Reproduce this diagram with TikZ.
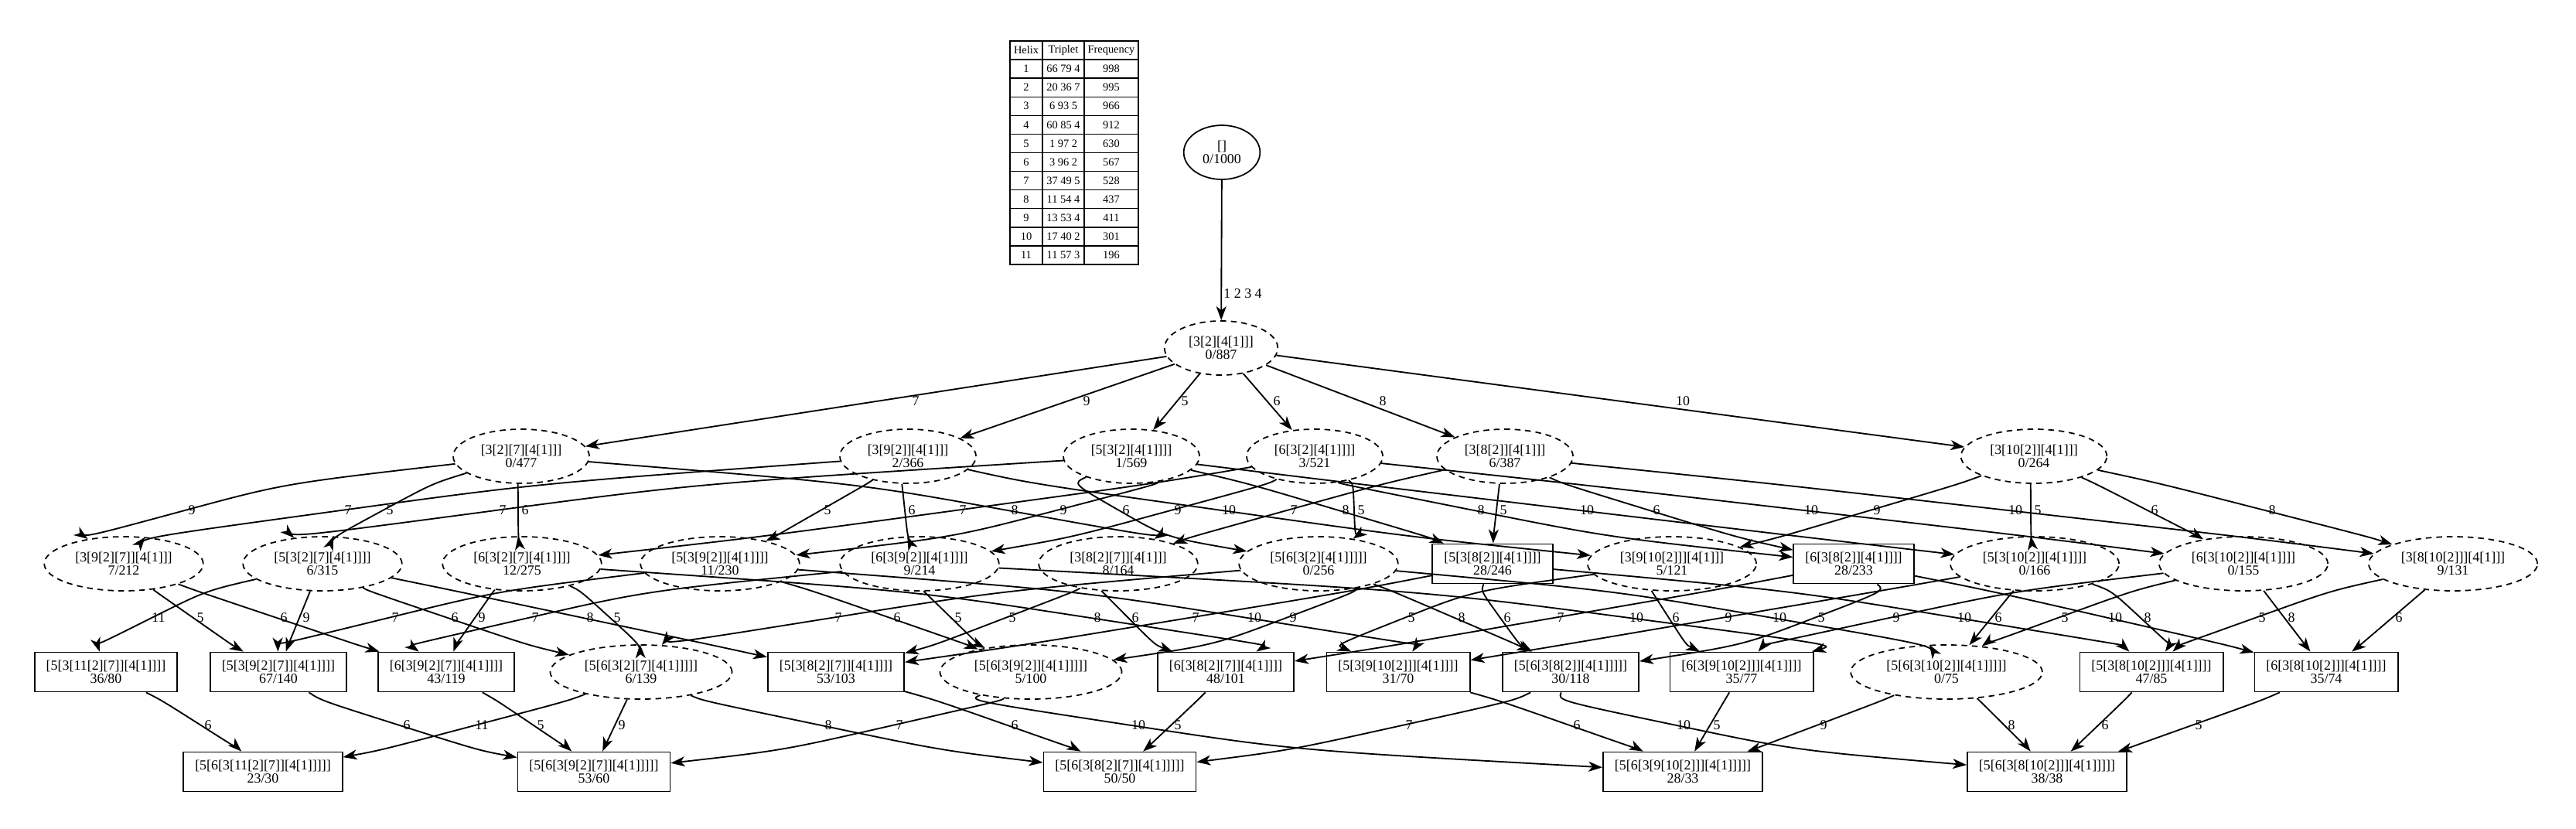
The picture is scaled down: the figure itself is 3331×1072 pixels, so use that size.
\documentclass[tikz,border=0pt]{standalone}
\usepackage{fontspec}
\setmainfont{Liberation Serif}
\usetikzlibrary{shapes.geometric,arrows.meta,calc}

\tikzset{
  stateell/.style={ellipse,draw,dash pattern=on 0.15cm off 0.12cm,line width=1pt,
    inner xsep=0.2cm,inner ysep=0.16cm,minimum height=1.4cm,align=center,
    font=\fontsize{10.2}{9.8}\selectfont},
  statebox/.style={rectangle,draw,line width=1pt,inner xsep=0.3cm,inner ysep=0.1cm,
    minimum height=1.02cm,align=center,font=\fontsize{10.2}{9.8}\selectfont},
  link/.style={-{Stealth[length=0.36cm,width=0.26cm,inset=0.1cm]},line width=1.05pt},
  lbl/.style={inner sep=0pt,font=\fontsize{10.2}{9.8}\selectfont},
  tab/.style={inner sep=0pt,font=\fontsize{8.2}{9}\selectfont}
}

\begin{document}
\begin{tikzpicture}[x=0.02cm,y=-0.02cm]
\useasboundingbox (0,0) rectangle (3331,1072);

% helix table
\draw[line width=0.8pt] (1306,53) rectangle (1472,342);
\foreach \k in {1,...,11}
  \draw[line width=0.8pt] (1306,{53+24.08*\k}) -- (1472,{53+24.08*\k});
\draw[line width=0.8pt] (1348,53) -- (1348,342) (1402,53) -- (1402,342);
\node[tab] (th) at (1327,65) {Helix};
\node[tab] (tt) at (1375,65) {Triplet};
\node[tab] (tf) at (1437,65) {Frequency};
\foreach \t/\f [count=\k] in {66 79 4/998,20 36 7/995,6 93 5/966,60 85 4/912,
    1 97 2/630,3 96 2/567,37 49 5/528,11 54 4/437,13 53 4/411,17 40 2/301,11 57 3/196}
{
  \node[tab] (h\k) at (1327,{65+24.08*\k}) {\k};
  \node[tab] (t\k) at (1375,{65+24.08*\k}) {\t};
  \node[tab] (f\k) at (1437,{65+24.08*\k}) {\f};
}

% nodes
\node[stateell,solid] (R0) at (1580,197) {[]\\0/1000};
\node[stateell] (R1) at (1579,450) {[3[2][4[1]]]\\0/887};

\node[stateell] (A1) at (674,590) {[3[2][7][4[1]]]\\0/477};
\node[stateell] (A2) at (1174,590) {[3[9[2]][4[1]]]\\2/366};
\node[stateell] (A3) at (1463,590) {[5[3[2][4[1]]]]\\1/569};
\node[stateell] (A4) at (1700,590) {[6[3[2][4[1]]]]\\3/521};
\node[stateell] (A5) at (1946,590) {[3[8[2]][4[1]]]\\6/387};
\node[stateell] (A6) at (2630,590) {[3[10[2]][4[1]]]\\0/264};

\node[stateell] (B1) at (160,729) {[3[9[2][7]][4[1]]]\\7/212};
\node[stateell] (B2) at (417,729) {[5[3[2][7][4[1]]]]\\6/315};
\node[stateell] (B3) at (675,729) {[6[3[2][7][4[1]]]]\\12/275};
\node[stateell] (B4) at (931,729) {[5[3[9[2]][4[1]]]]\\11/230};
\node[stateell] (B5) at (1189,729) {[6[3[9[2]][4[1]]]]\\9/214};
\node[stateell] (B6) at (1446,729) {[3[8[2][7]][4[1]]]\\8/164};
\node[stateell] (B7) at (1705,729) {[5[6[3[2][4[1]]]]]\\0/256};
\node[statebox] (B8) at (1930,729) {[5[3[8[2]][4[1]]]]\\28/246};
\node[stateell] (B9) at (2162,729) {[3[9[10[2]]][4[1]]]\\5/121};
\node[statebox] (B10) at (2397,729) {[6[3[8[2]][4[1]]]]\\28/233};
\node[stateell] (B11) at (2631,729) {[5[3[10[2]][4[1]]]]\\0/166};
\node[stateell] (B12) at (2901,729) {[6[3[10[2]][4[1]]]]\\0/155};
\node[stateell] (B13) at (3172,729) {[3[8[10[2]]][4[1]]]\\9/131};

\node[statebox] (C1) at (137,869) {[5[3[11[2][7]][4[1]]]]\\36/80};
\node[statebox] (C2) at (360,869) {[5[3[9[2][7]][4[1]]]]\\67/140};
\node[statebox] (C3) at (577,869) {[6[3[9[2][7]][4[1]]]]\\43/119};
\node[stateell] (C4) at (829,869) {[5[6[3[2][7][4[1]]]]]\\6/139};
\node[statebox] (C5) at (1081,869) {[5[3[8[2][7]][4[1]]]]\\53/103};
\node[stateell] (C6) at (1333,869) {[5[6[3[9[2]][4[1]]]]]\\5/100};
\node[statebox] (C7) at (1585,869) {[6[3[8[2][7]][4[1]]]]\\48/101};
\node[statebox] (C8) at (1808,869) {[5[3[9[10[2]]][4[1]]]]\\31/70};
\node[statebox] (C9) at (2031,869) {[5[6[3[8[2]][4[1]]]]]\\30/118};
\node[statebox] (C10) at (2252,869) {[6[3[9[10[2]]][4[1]]]]\\35/77};
\node[stateell] (C11) at (2517,869) {[5[6[3[10[2]][4[1]]]]]\\0/75};
\node[statebox] (C12) at (2782,869) {[5[3[8[10[2]]][4[1]]]]\\47/85};
\node[statebox] (C13) at (3008,869) {[6[3[8[10[2]]][4[1]]]]\\35/74};

\node[statebox] (D1) at (340,998) {[5[6[3[11[2][7]][4[1]]]]]\\23/30};
\node[statebox] (D2) at (768,998) {[5[6[3[9[2][7]][4[1]]]]]\\53/60};
\node[statebox] (D3) at (1448,998) {[5[6[3[8[2][7]][4[1]]]]]\\50/50};
\node[statebox] (D4) at (2176,998) {[5[6[3[9[10[2]]][4[1]]]]]\\28/33};
\node[statebox] (D5) at (2647,998) {[5[6[3[8[10[2]]][4[1]]]]]\\38/38};

% edges
\draw[link] (R0) -- (R1) node[lbl] (l0) at (1607,380) {1 2 3 4};
\foreach \b/\x/\l in {A1/1184/7,A2/1405/9,A3/1532/5,A4/1651/6,A5/1788/8,A6/2176/10}
  \draw[link] (R1) -- (\b) node[lbl] (lR\b) at (\x,519) {\l};

\foreach \a/\b/\x/\l [evaluate=\x as \wx using \x-9] in {
    A1/B1/248/9,A2/B1/450/7,A1/B2/504/5,A3/B2/650/7,A1/B3/679/6,A2/B4/1070/5,
    A2/B5/1179/6,A4/B3/1245/7,A1/B6/1312/8,A3/B4/1375/9,A3/B7/1456/6,A4/B5/1523/9,
    A2/B9/1589/10,A5/B6/1673/7,A3/B8/1740/8,A4/B7/1760/5,A4/B10/1915/8,A5/B8/1944/5,
    A3/B11/2052/10,A5/B10/2142/6,A4/B12/2342/10,A6/B9/2427/9,A5/B13/2606/10,
    A6/B11/2635/5,A6/B12/2786/6,A6/B13/2938/8}
  \draw[link] (\a) .. controls ($(\wx,660)+0.25*(\a)-0.25*(\b)$) .. (\wx,660)
    .. controls ($(\wx,660)-0.25*(\a)+0.25*(\b)$) .. (\b)
    node[lbl] (l\a\b) at (\x,660) {\l};

\foreach \a/\b/\x/\l [evaluate=\x as \wx using \x-9] in {
    B2/C1/205/11,B1/C2/259/5,B1/C3/367/6,B2/C2/396/9,B4/C2/511/7,B2/C4/588/6,
    B3/C3/623/9,B5/C3/692/7,B2/C5/763/8,B3/C4/798/5,B7/C4/1084/7,B4/C6/1160/6,
    B5/C6/1239/5,B6/C5/1309/5,B3/C7/1419/8,B6/C7/1468/6,B8/C5/1546/7,B4/C8/1622/10,
    B7/C6/1672/9,B9/C8/1825/5,B7/C9/1890/8,B8/C9/1949/6,B10/C7/2018/7,
    B5/C10/2116/10,B9/C10/2167/6,B11/C8/2235/9,B7/C11/2301/10,B10/C9/2355/5,
    B12/C10/2452/9,B8/C12/2540/10,B11/C11/2584/6,B12/C11/2670/5,B10/C13/2735/10,
    B11/C12/2777/8,B13/C12/2925/5,B12/C13/2963/8,B13/C13/3102/6}
  \draw[link] (\a) .. controls ($(\wx,799)+0.25*(\a)-0.25*(\b)$) .. (\wx,799)
    .. controls ($(\wx,799)-0.25*(\a)+0.25*(\b)$) .. (\b)
    node[lbl] (l\a\b) at (\x,799) {\l};

\foreach \a/\b/\x/\l [evaluate=\x as \wx using \x-9] in {
    C1/D1/269/6,C2/D2/526/6,C4/D1/623/11,C3/D2/699/5,C4/D2/804/9,C4/D3/1071/8,
    C6/D2/1163/7,C5/D3/1312/6,C6/D4/1472/10,C7/D3/1523/5,C9/D3/1822/7,
    C8/D4/2039/6,C9/D5/2177/10,C10/D4/2220/5,C11/D4/2358/9,C11/D5/2601/8,
    C12/D5/2722/6,C13/D5/2843/5}
  \draw[link] (\a) .. controls ($(\wx,938)+0.25*(\a)-0.25*(\b)$) .. (\wx,938)
    .. controls ($(\wx,938)-0.25*(\a)+0.25*(\b)$) .. (\b)
    node[lbl] (l\a\b) at (\x,938) {\l};
\end{tikzpicture}
\end{document}
